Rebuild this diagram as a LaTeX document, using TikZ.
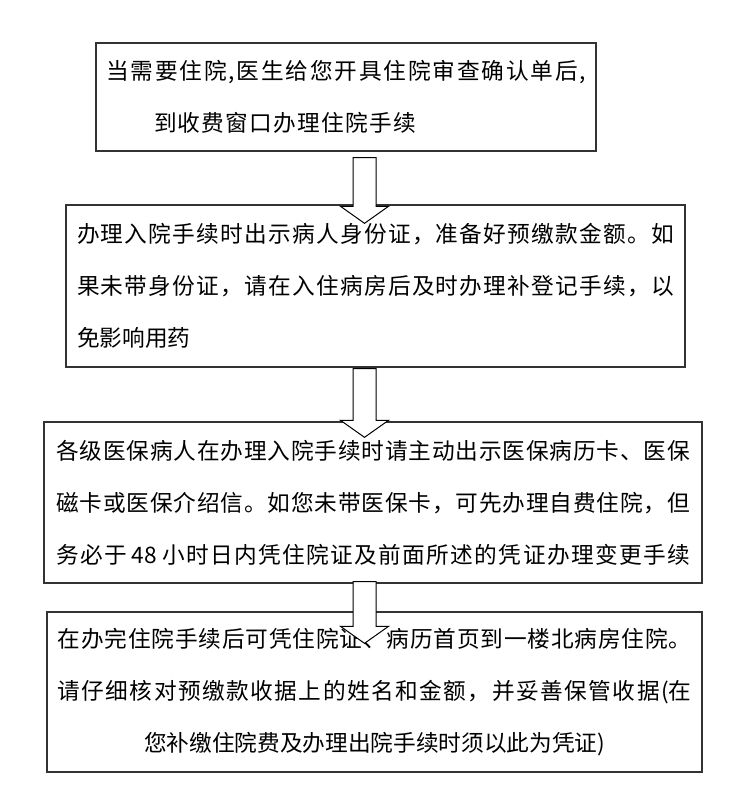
\documentclass[tikz,border=0pt]{standalone}
\usepackage{fontspec}
\setmainfont{Noto Sans CJK SC}
\usetikzlibrary{calc}

% spread the characters of one line over a width given in px
\ExplSyntaxOn
\NewDocumentCommand \spreadline { m m }
  { \hbox_to_wd:nn { #1 pt * 3 / 4 } { \tl_map_inline:nn {#2} { ##1 \hfil } \unskip } }
\ExplSyntaxOff

\tikzset{
  stepbox/.style={draw=black!80, line width=1pt, inner sep=0pt, font=\fontsize{17}{39}\selectfont},
  arrowbody/.style={draw, fill=white, line width=0.75pt, line join=miter},
}

\begin{document}
\begin{tikzpicture}[x=0.75pt,y=-0.75pt]
\useasboundingbox (0,0) rectangle (730,809);

% the four steps
\node[stepbox, align=left, minimum width=375pt, minimum height=81pt] (b1) at (346,97)
  {\spreadline{480}{当需要住院,医生给您开具住院审查确认单后,}\\
   \hspace*{36pt}\spreadline{262}{到收费窗口办理住院手续}};
\node[stepbox, align=left, minimum width=464.25pt, minimum height=121.5pt] (b2) at (375.5,286)
  {\spreadline{597}{办理入院手续时出示病人身份证，准备好预缴款金额。如}\\
   \spreadline{597}{果未带身份证，请在入住病房后及时办理补登记手续，以}\\
   免影响用药};
\node[stepbox, align=left, minimum width=493.5pt, minimum height=120.75pt] (b3) at (373,502.5)
  {\spreadline{634}{各级医保病人在办理入院手续时请主动出示医保病历卡、医保}\\
   \spreadline{634}{磁卡或医保介绍信。如您未带医保卡，可先办理自费住院，但}\\
   \spreadline{634}{务必于{\,48\,}小时日内凭住院证及前面所述的凭证办理变更手续}};
\node[stepbox, align=center, minimum width=491.25pt, minimum height=120pt] (b4) at (374.5,692)
  {\spreadline{634}{在办完住院手续后可凭住院证、病历首页到一楼北病房住院。}\\
   \spreadline{634}{请仔细核对预缴款收据上的姓名和金额，并妥善保管收据{(在}}\\
   您补缴住院费及办理出院手续时须以此为凭证)};

% block arrows between the steps
\coordinate (axis) at (364.5,0);
\foreach \from/\to/\gap/\dip in {b1/b2/6/19, b2/b3/1/16, b3/b4/-2/32} {
  \coordinate (top) at ($(\from.south -| axis)+(0,\gap)$);
  \coordinate (tip) at ($(\to.north -| axis)+(0,\dip)$);
  \draw[arrowbody] ($(top)+(-11.5,0)$) -- ($(top)+(11.5,0)$) -- ($(tip)+(11.5,-17)$)
    -- ($(tip)+(24,-17)$) -- (tip) -- ($(tip)+(-24,-17)$) -- ($(tip)+(-11.5,-17)$) -- cycle;
}
\end{tikzpicture}
\end{document}
